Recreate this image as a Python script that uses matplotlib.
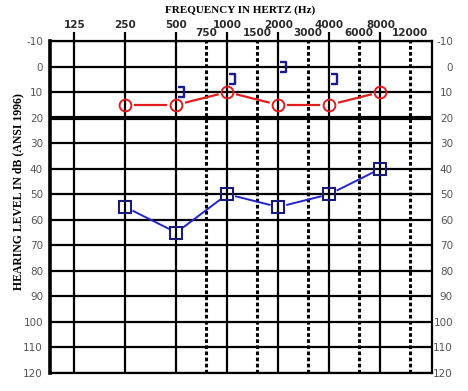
import matplotlib
matplotlib.use("Agg")
import matplotlib.pyplot as plt
from matplotlib.path import Path
import matplotlib.transforms as mtrans
import numpy as np

# ---- data ----
freqs = [250, 500, 1000, 2000, 4000, 8000]
right_air = [15, 15, 10, 15, 15, 10]
left_air = [55, 65, 50, 55, 50, 40]
bone_freqs = [500, 1000, 2000, 4000]
left_bone = [10, 5, 0, 5]

octave_ticks = [125, 250, 500, 1000, 2000, 4000, 8000]
octave_labels = ["125", "250", "500", "1000", "2000", "4000", "8000"]
mid_ticks = [750, 1500, 3000, 6000, 12000]
mid_labels = ["750", "1500", "3000", "6000", "12000"]
db_ticks = list(range(-10, 121, 10))

fig = plt.figure(figsize=(4.68, 3.91), dpi=100)
W, H = 468, 391
ax = fig.add_axes([50 / W, 1 - 373 / H, (432 - 50) / W, (373 - 41) / H])

ax.set_xscale("log", base=2)
ax.set_xlim(90, 16100)
ax.set_ylim(120, -10)

# ticks
ax.xaxis.tick_top()
ax.set_xticks(octave_ticks, octave_labels)
ax.set_xticks(mid_ticks, mid_labels, minor=True)
ax.tick_params(axis="x", which="major", length=6.5, width=1.6, pad=1.5,
               labelsize=7.5, labelcolor="#2a2a2a", color="black")
ax.tick_params(axis="x", which="minor", length=0, pad=2.5,
               labelsize=7.5, labelcolor="#2a2a2a")
for lab in ax.get_xticklabels() + ax.get_xticklabels(minor=True):
    lab.set_fontweight("bold")

ax.set_yticks(db_ticks, [str(v) for v in db_ticks])
ax.tick_params(axis="y", which="major", length=0, pad=5, labelsize=7.5,
               labelcolor="#555555", labelright=True, right=False)

# grid
ax.grid(True, axis="y", which="major", color="black", lw=1.6)
ax.grid(True, axis="x", which="major", color="black", lw=1.6)
ax.grid(True, axis="x", which="minor", color="black", lw=2.2,
        linestyle=(0, (1.2, 0.8)))
ax.axhline(20, color="black", lw=3)

for s in ax.spines.values():
    s.set_linewidth(1.6)
    s.set_color("black")
ax.spines["left"].set_linewidth(2.6)
ax.set_axisbelow(True)

fig.canvas.draw()


def gapped_line(xs, ys, gap_px, **kw):
    pts = ax.transData.transform(np.column_stack([xs, ys]))
    inv = ax.transData.inverted()
    for p0, p1 in zip(pts[:-1], pts[1:]):
        d = p1 - p0
        n = np.hypot(*d)
        u = d / n
        a = inv.transform(p0 + u * gap_px)
        b = inv.transform(p1 - u * gap_px)
        ax.plot([a[0], b[0]], [a[1], b[1]], **kw)


# data
gapped_line(freqs, right_air, 10, color="#e01e1e", lw=1.6, zorder=4)
ax.plot(freqs, right_air, linestyle="none", marker="o", ms=8.5,
        mfc="none", mec="#e01e1e", mew=1.4, zorder=5, clip_on=False)
gapped_line(freqs, left_air, 9, color="#2424c8", lw=1.4, zorder=4)
ax.plot(freqs, left_air, linestyle="none", marker="s", ms=8.3,
        mfc="none", mec="#1a1a78", mew=1.5, zorder=5, clip_on=False)

bracket = Path([(2, 5), (8, 5), (8, -5), (2, -5)],
               [Path.MOVETO, Path.LINETO, Path.LINETO, Path.LINETO])
ax.plot(bone_freqs, left_bone, linestyle="none", marker=bracket, ms=12,
        mfc="none", mec="#1a1a8a", mew=1.7, zorder=6)

# labels
fig.text(240 / W, 1 - 10 / H, "FREQUENCY IN HERTZ (Hz)", ha="center",
         va="center", fontsize=8.0, fontweight="bold",
         family="Liberation Serif")
fig.text(18 / W, 1 - 192 / H, "HEARING LEVEL IN dB (ANSI 1996)",
         ha="center", va="center", rotation=90, fontsize=8.5,
         fontweight="bold", family="Liberation Serif")

# right labels right-aligned about 21 px beyond the frame
offs = mtrans.ScaledTranslation(21 / 100, 0, fig.dpi_scale_trans)
for t in ax.yaxis.get_major_ticks():
    t.label2.set_horizontalalignment("right")
    t.label2.set_transform(ax.get_yaxis_transform(which="tick2") + offs)

fig.savefig("out.png", dpi=100)
